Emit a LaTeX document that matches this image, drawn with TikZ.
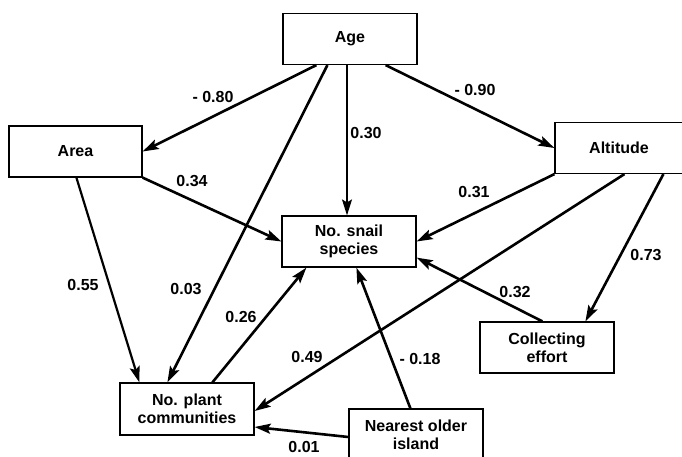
\documentclass[tikz,border=0pt]{standalone}
\usepackage{fontspec}
\setmainfont{Liberation Sans}
\usetikzlibrary{arrows.meta,calc}
\begin{document}
\begin{tikzpicture}[x=1pt,y=-1pt,
  box/.style={draw,line width=1.2pt,minimum width=134pt,minimum height=51pt,inner sep=0pt,align=center,font=\fontsize{16}{18}\selectfont\bfseries},
  lbl/.style={font=\fontsize{16}{18}\selectfont\bfseries,inner sep=0pt},
  arr/.style={line width=2.6pt,-{Stealth[length=16pt,width=10pt,inset=3pt]}},
  thinarr/.style={line width=1.5pt,-{Stealth[length=16pt,width=10pt,inset=3pt]}}]
\useasboundingbox (0,0) rectangle (682,456);
\node[box] (age) at (350,39) {Age};
\node[box,minimum width=133pt] (area) at (75.5,151.5) {Area};
\node[box,minimum width=128pt] (alt) at (619,148) {Altitude};
\node[box] (snail) at (349,241.5) {No. snail\\species};
\node[box,minimum height=52pt] (plant) at (187,409) {No. plant\\communities};
\node[box] (coll) at (547,347.5) {Collecting\\effort};
\node[box] (isl) at (416,434.5) {Nearest older\\island};

\draw[arr] ($(age.south west)+(34,0)$) -- (area.east);
\draw[arr] ($(age.south west)+(45,0)$) -- ($(plant.north west)+(48,0)$);
\draw[thinarr] ($(age.south)+(-3,0)$) -- ($(snail.north)+(-2,0)$);
\draw[arr] ($(age.south east)+(-32,0)$) -- (alt.west);
\draw[arr] (area.south east) -- (snail.west);
\draw[arr,line width=2.2pt] ($(area.south west)+(68,0)$) -- ($(plant.north west)+(20,0)$);
\draw[arr] (alt.south west) -- (snail.east);
\draw[arr] ($(alt.south west)+(70,0)$) -- ($(plant.east)+(0,2)$);
\draw[arr] ($(alt.south west)+(109,0)$) -- ($(coll.north west)+(106,0)$);
\draw[arr] ($(coll.north west)+(63,0)$) -- ($(snail.south east)+(0,-10)$);
\draw[arr] ($(plant.north west)+(93,0)$) -- ($(snail.south west)+(25,0)$);
\draw[arr] ($(isl.north west)+(62,0)$) -- ($(snail.south west)+(75,0)$);
\draw[arr] ($(isl.west)+(0,2.5)$) -- ($(plant.east)+(0,18)$);

\node[lbl] (l1) at (213,97) {- 0.80};
\node[lbl] (l2) at (186,289) {0.03};
\node[lbl] (l3) at (366,133) {0.30};
\node[lbl] (l4) at (475,90) {- 0.90};
\node[lbl] (l5) at (192,181) {0.34};
\node[lbl] (l6) at (83,285) {0.55};
\node[lbl] (l7) at (474,192) {0.31};
\node[lbl] (l8) at (307,357) {0.49};
\node[lbl] (l9) at (646,255) {0.73};
\node[lbl] (l10) at (515,292) {0.32};
\node[lbl] (l11) at (241,317) {0.26};
\node[lbl] (l12) at (420,359) {- 0.18};
\node[lbl] (l13) at (304,446.5) {0.01};
\end{tikzpicture}
\end{document}
